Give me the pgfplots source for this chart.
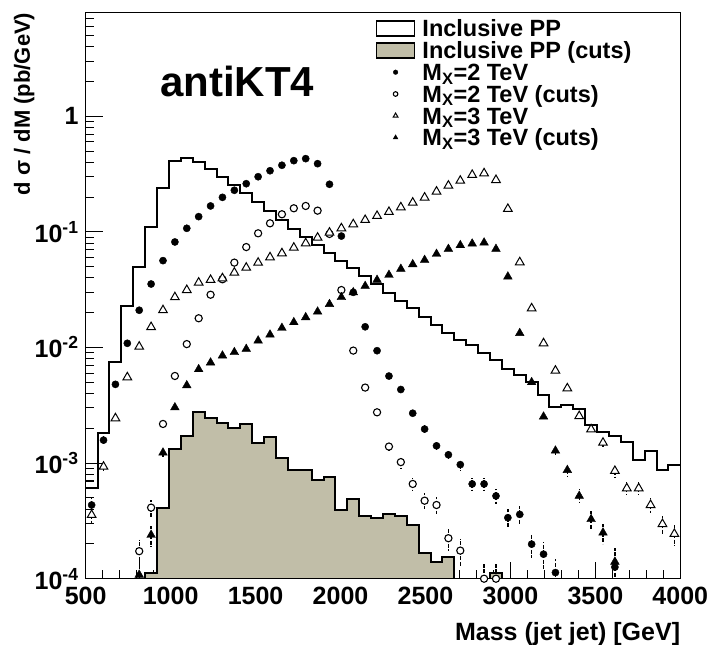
\documentclass[border=0pt]{standalone}
\usepackage{fontspec}
\setmainfont{Liberation Sans}
\usepackage{pgfplots}
\usepackage{pgfplotstable}
\pgfplotsset{compat=1.18}
\definecolor{cutfill}{RGB}{193,190,168}

% Inclusive PP, 70 GeV bins (left edge, dsigma/dM); last row closes the last bin
\pgfplotstableread{
lo    v
500   6.05e-4
570   1.81e-3
640   7.45e-3
710   0.0230
780   0.050
850   0.111
920   0.241
990   0.410
1060  0.433
1130  0.400
1200  0.352
1270  0.300
1340  0.255
1410  0.216
1480  0.182
1550  0.152
1620  0.127
1690  0.106
1760  0.091
1830  0.077
1900  0.0653
1970  0.0564
2040  0.0484
2110  0.0415
2180  0.0354
2250  0.0298
2320  0.0254
2390  0.0218
2460  0.0185
2530  0.0157
2600  0.0134
2670  0.0116
2740  0.0105
2810  0.0089
2880  0.0078
2950  0.00648
3020  0.00574
3090  0.0050
3160  0.00388
3230  0.00308
3300  0.00320
3370  0.00295
3440  0.00214
3510  0.00186
3580  0.00170
3650  0.00153
3720  0.00106
3790  0.00126
3860  0.00087
3930  0.00096
4000  0.00096
}\inclpp

% Inclusive PP after cuts (non-empty bins)
\pgfplotstableread{
lo    v
850   1.13e-4
920   4.06e-4
990   1.32e-3
1060  1.72e-3
1130  2.79e-3
1200  2.47e-3
1270  2.21e-3
1340  2.02e-3
1410  2.19e-3
1480  1.48e-3
1550  1.68e-3
1620  1.10e-3
1690  8.7e-4
1760  8.7e-4
1830  7.14e-4
1900  7.6e-4
1970  3.93e-4
2040  4.92e-4
2110  3.48e-4
2180  3.37e-4
2250  3.63e-4
2320  3.48e-4
2390  2.91e-4
2460  1.68e-4
2530  1.39e-4
2600  1.55e-4
2670  1.55e-4
}\cutspp
\pgfplotstableread{
lo    v
2880  1.13e-4
2950  1.13e-4
}\cutsppb

% M_X = 2 TeV signal (bin centre, value, error)
\pgfplotstableread{
m     v        e
535   4.34e-4  7.0e-5
605   1.58e-3  1.35e-4
675   4.8e-3   0
745   0.01087  0
815   0.0210   0
885   0.0354   0
955   0.0564   0
1025  0.0818   0
1095  0.1074   0
1165  0.1355   0
1235  0.1676   0
1305  0.199    0
1375  0.229    0
1445  0.261    0
1515  0.300    0
1585  0.338    0
1655  0.377    0
1725  0.413    0
1795  0.430    0
1865  0.389    0
1935  0.258    0
2005  0.092    0
2075  0.030    0
2145  0.0151   0
2215  0.00938  0
2285  0.00566  0
2355  0.00433  0
2425  0.00270  0
2495  0.00197  1.5e-4
2565  0.00141  1.27e-4
2635  0.00118  1.16e-4
2705  9.7e-4   1.06e-4
2775  6.6e-4   8.7e-5
2845  6.6e-4   8.7e-5
2915  5.2e-4   7.7e-5
2985  3.37e-4  6.2e-5
3055  3.6e-4   6.4e-5
3125  1.99e-4  4.8e-5
3195  1.63e-4  4.3e-5
3265  1.13e-4  3.6e-5
3615  1.26e-4  5.5e-5
}\mtwo

% M_X = 2 TeV signal after cuts
\pgfplotstableread{
m     v        e
815   1.73e-4  4.5e-5
885   4.12e-4  6.9e-5
955   2.18e-3  1.6e-4
1025  5.67e-3  0
1095  0.0107   0
1165  0.0179   0
1235  0.0286   0
1305  0.0389   0
1375  0.0542   0
1445  0.0739   0
1515  0.0972   0
1585  0.1186   0
1655  0.142    0
1725  0.160    0
1795  0.1676   0
1865  0.1526   0
1935  0.096    0
2005  0.0314   0
2075  0.0094   0
2145  4.5e-3   0
2215  2.75e-3  0
2285  1.39e-3  1.26e-4
2355  1.02e-3  1.08e-4
2425  6.6e-4   8.7e-5
2495  4.73e-4  7.4e-5
2565  4.34e-4  7.1e-5
2635  2.24e-4  5.1e-5
2705  1.75e-4  4.5e-5
2845  1.0e-4   3.7e-5
2915  1.0e-4   3.7e-5
}\mtwocut

% M_X = 3 TeV signal
\pgfplotstableread{
m     v        e
535   3.56e-4  6.0e-5
605   9.3e-4   9.6e-5
675   2.44e-3  0
745   5.52e-3  0
815   0.01016  0
885   0.0150   0
955   0.0210   0
1025  0.0272   0
1095  0.0314   0
1165  0.0364   0
1235  0.0384   0
1305  0.0397   0
1375  0.0444   0
1445  0.0490   0
1515  0.0541   0
1585  0.0602   0
1655  0.0653   0
1725  0.0730   0
1795  0.0797   0
1865  0.0891   0
1935  0.0985   0
2005  0.1074   0
2075  0.1164   0
2145  0.1267   0
2215  0.1374   0
2285  0.1487   0
2355  0.163    0
2425  0.179    0
2495  0.198    0
2565  0.223    0
2635  0.251    0
2705  0.277    0
2775  0.311    0
2845  0.321    0
2915  0.281    0
2985  0.158    0
3055  0.0546   0
3125  0.0218   0
3195  0.01087  0
3265  6.3e-3   0
3335  4.43e-3  0
3405  2.55e-3  0
3475  1.96e-3  0
3545  1.50e-3  1.2e-4
3615  8.55e-4  9.2e-5
3685  6.05e-4  7.8e-5
3755  6.05e-4  7.8e-5
3825  4.34e-4  6.6e-5
3895  2.97e-4  5.5e-5
3965  2.44e-4  5.0e-5
}\mthree

% M_X = 3 TeV signal after cuts
\pgfplotstableread{
m     v        e
815   1.08e-4  3.3e-5
885   2.39e-4  4.9e-5
955   1.23e-3  1.1e-4
1025  3.03e-3  0
1095  4.7e-3   0
1165  6.48e-3  0
1235  7.4e-3   0
1305  8.5e-3   0
1375  9.1e-3   0
1445  9.7e-3   0
1515  0.01146  0
1585  0.01291  0
1655  0.01475  0
1725  0.01652  0
1795  0.01824  0
1865  0.0204   0
1935  0.0237   0
2005  0.0272   0
2075  0.0300   0
2145  0.0340   0
2215  0.0384   0
2285  0.0424   0
2355  0.0478   0
2425  0.0524   0
2495  0.0571   0
2565  0.0644   0
2635  0.0711   0
2705  0.0766   0
2775  0.0791   0
2845  0.0807   0
2915  0.0711   0
2985  0.041    0
3055  0.0133   0
3125  5.0e-3   0
3195  2.52e-3  0
3265  1.28e-3  1.1e-4
3335  8.7e-4   9.3e-5
3405  5.2e-4   7.2e-5
3475  3.27e-4  5.7e-5
3545  2.5e-4   5.0e-5
3615  1.40e-4  4.5e-5
}\mthreecut

\pgfplotsset{
  errs/.style={error bars/.cd, y dir=both, y explicit, error mark=none,
    error bar style={line width=1.4pt, black, dash pattern=on 4pt off 1.6pt}},
  mleg/.style={legend image code/.code={\draw[##1,mark size=#1] plot coordinates {(19pt,0pt)};}},
}

\begin{document}
\begin{tikzpicture}
\useasboundingbox (0,0) rectangle (710pt,645pt);
\begin{axis}[
  at={(85.7pt,66.3pt)}, anchor=south west,
  scale only axis, width=594.6pt, height=566.2pt,
  xmin=500, xmax=4000,
  ymode=log, ymin=1e-4, ymax=7.9,
  log origin y=infty,
  axis line style={line width=1.5pt},
  tick align=inside, tick pos=left,
  major tick length=17pt, minor tick length=8.5pt,
  tick style={line width=1.1pt, black},
  xtick={500,1000,1500,2000,2500,3000,3500,4000},
  xticklabels={500,1000,1500,2000,2500,3000,3500,4000},
  minor x tick num=4,
  ytick={1e-4,1e-3,1e-2,1e-1,1},
  yticklabels={10\textsuperscript{-4},10\textsuperscript{-3},10\textsuperscript{-2},10\textsuperscript{-1},1},
  minor ytick={2e-4,3e-4,4e-4,5e-4,6e-4,7e-4,8e-4,9e-4,
               2e-3,3e-3,4e-3,5e-3,6e-3,7e-3,8e-3,9e-3,
               2e-2,3e-2,4e-2,5e-2,6e-2,7e-2,8e-2,9e-2,
               0.2,0.3,0.4,0.5,0.6,0.7,0.8,0.9,2,3,4,5,6,7},
  tick label style={font=\fontsize{25}{30}\selectfont\bfseries},
  xticklabel style={inner sep=0pt, yshift=-8pt},
  yticklabel style={inner sep=0pt, xshift=-7pt},
  xlabel={Mass (jet jet) [GeV]},
  ylabel={d σ / dM (pb/GeV)},
  every axis x label/.style={at={(axis description cs:1,-0.110)}, anchor=base east,
    inner sep=0pt, font=\fontsize{25}{30}\selectfont\bfseries},
  every axis y label/.style={at={(axis description cs:-0.0937,1)}, rotate=90,
    anchor=base east, inner sep=0pt, font=\fontsize{22}{26}\selectfont\bfseries},
  legend cell align=left,
  legend style={draw=none, fill=none, at={(0.4877,0.9872)}, anchor=north west,
    inner sep=0pt, outer sep=0pt, row sep=5.3pt, column sep=7pt,
    font=\fontsize{23.5}{27}\selectfont\bfseries,
    nodes={inner sep=0pt, text height=16.5pt, text depth=0pt}},
]

\addplot[const plot mark left, black, line width=2pt,
  legend image code/.code={\draw[black,line width=1.8pt,fill=white] (0pt,-7.5pt) rectangle (38pt,7.5pt);}]
  table[x=lo,y=v]{\inclpp};
\addlegendentry{Inclusive PP}

\addplot[const plot mark left, draw=black, line width=2pt, fill=cutfill,
  legend image code/.code={\draw[black,line width=1.8pt,fill=cutfill] (0pt,-7.5pt) rectangle (38pt,7.5pt);}]
  table[x=lo,y=v]{\cutspp} \closedcycle;
\addlegendentry{Inclusive PP (cuts)}

\addplot[const plot mark left, draw=black, line width=2pt, fill=cutfill, forget plot]
  table[x=lo,y=v]{\cutsppb} \closedcycle;

\addplot[only marks, black, mark=*, mark size=3.6pt, mleg=2.3pt, errs]
  table[x=m,y=v,y error=e]{\mtwo};
\addlegendentry{M\textsubscript{X}=2 TeV}

\addplot[only marks, black, mark=*, mark size=3.6pt,
  mark options={fill=white, line width=1.1pt}, mleg=2.3pt, errs]
  table[x=m,y=v,y error=e]{\mtwocut};
\addlegendentry{M\textsubscript{X}=2 TeV (cuts)}

\addplot[only marks, black, mark=triangle*, mark size=5pt,
  mark options={fill=white, line width=1.0pt}, mleg=2.8pt, errs]
  table[x=m,y=v,y error=e]{\mthree};
\addlegendentry{M\textsubscript{X}=3 TeV}

\addplot[only marks, black, mark=triangle*, mark size=5pt, mleg=2.8pt, errs]
  table[x=m,y=v,y error=e]{\mthreecut};
\addlegendentry{M\textsubscript{X}=3 TeV (cuts)}

\node[anchor=base west, inner sep=0pt, font=\fontsize{42}{48}\selectfont\bfseries]
  at (rel axis cs:0.125,0.8525) {antiKT4};
\end{axis}
\end{tikzpicture}
\end{document}
